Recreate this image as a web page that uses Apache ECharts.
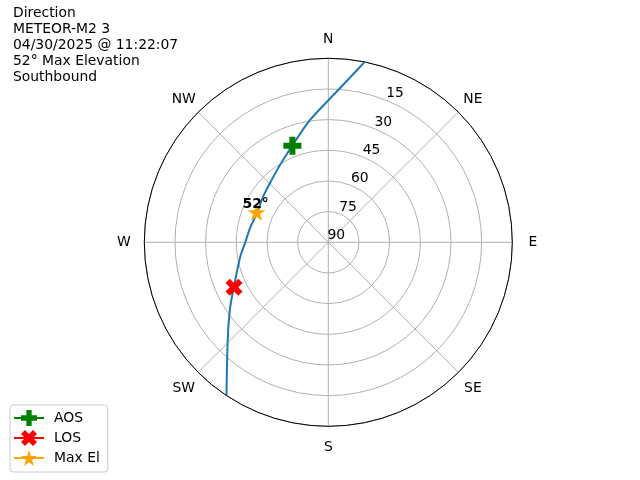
<!DOCTYPE html>
<html><head><meta charset="utf-8">
<script src="https://cdn.jsdelivr.net/npm/echarts@6/dist/echarts.min.js"></script>
<style>html,body{margin:0;padding:0;background:#fff}#c{width:640px;height:480px}</style>
</head><body><div id="c"></div>
<script>
const titleLines = ['Direction', 'METEOR-M2 3', '04/30/2025 @ 11:22:07', '52° Max Elevation', 'Southbound'];
const compassLabels = ['N', 'NE', 'E', 'SE', 'S', 'SW', 'W', 'NW'];
const elevTicks = [15, 30, 45, 60, 75, 90];
// pass track: azimuth (deg, clockwise from N) and elevation (deg)
const trackAz = [11.4, 7.65, 2.0, 351.5, 341.7, 328.0, 317.7, 304.8, 293.2, 280.3, 270, 261.1, 247.1, 236.1, 226.3, 213.6];
const trackEl = [0, 8.4, 17.9, 29.5, 38.1, 45.4, 48.8, 51.1, 52.3, 51.1, 49.4, 46.5, 40.4, 32.1, 22.0, 0];
const aosPoint = [39.6, 339.6];   // [elevation, azimuth]
const losPoint = [38.9, 244.5];
const maxElPoint = [52.0, 292.7];

const FONT = 'DejaVu Sans';
const FS = 13.9;
const plusPath = 'path://M-1,-3L1,-3L1,-1L3,-1L3,1L1,1L1,3L-1,3L-1,1L-3,1L-3,-1L-1,-1Z';
const xPath = 'path://M2,-4L4,-2L2,0L4,2L2,4L0,2L-2,4L-4,2L-2,0L-4,-2L-2,-4L0,-2Z';
const starPath = 'path://M0,-1L-0.2245,-0.309L-0.951,-0.309L-0.363,0.118L-0.588,0.809L0,0.382L0.588,0.809L0.363,0.118L0.951,-0.309L0.2245,-0.309Z';

const trackData = trackAz.map((a, i) => [trackEl[i], a]);

// per-direction padding so each compass label is centred at a common distance
const compassPad = {
  n: [0, 0, 12, 0], ne: [0, 0, 5.7, 4.9], e: [0, 0, 0, 16.1], se: [9.4, 0, 0, 5.7],
  s: [13.9, 0, 0, 0], sw: [9.4, 3.2, 0, 0], w: [0, 13.6, 0, 0], nw: [0, 2.4, 5.7, 0]
};
const compassRich = {};
Object.keys(compassPad).forEach(k => {
  compassRich[k] = {fontFamily: FONT, fontSize: FS, color: '#000', padding: compassPad[k]};
});

const chart = echarts.init(document.getElementById('c'), null, {renderer: 'canvas'});
chart.setOption({
  animation: false,
  textStyle: {fontFamily: FONT, fontSize: FS, color: '#000'},
  title: {
    text: titleLines.join('\n'),
    left: 13, top: 5, padding: 0,
    textStyle: {fontFamily: FONT, fontSize: FS, fontWeight: 'normal', color: '#000', lineHeight: 16}
  },
  legend: {
    orient: 'vertical', left: 10, top: 405,
    padding: [5, 8, 6, 3],
    itemWidth: 30, itemHeight: 20, itemGap: 4,
    borderColor: '#cccccc', borderWidth: 1, borderRadius: 3,
    textStyle: {fontFamily: FONT, fontSize: FS, color: '#000', padding: [0, 0, 0, 5]},
    data: ['AOS', 'LOS', 'Max El']
  },
  polar: [
    {center: [328.3, 242.3], radius: 184},
    {center: [328.3, 242.3], radius: 184}
  ],
  angleAxis: [
    {
      polarIndex: 0, type: 'value', min: 0, max: 360, interval: 45,
      startAngle: 90, clockwise: true,
      axisLine: {lineStyle: {color: '#000', width: 1}},
      axisTick: {show: false},
      splitLine: {show: true, lineStyle: {color: '#b0b0b0', width: 1}},
      axisLabel: {
        margin: 0,
        fontFamily: FONT, fontSize: FS, color: '#000',
        rich: compassRich,
        formatter: v => {
          if (v >= 360) return '';
          const lab = compassLabels[Math.round(v / 45) % 8];
          return '{' + lab.toLowerCase() + '|' + lab + '}';
        }
      }
    },
    {
      polarIndex: 1, type: 'value', min: 0, max: 360, startAngle: 67.5, show: false
    }
  ],
  radiusAxis: [
    {
      polarIndex: 0, type: 'value', min: 0, max: 90, interval: 15, inverse: true,
      axisLine: {show: false}, axisTick: {show: false}, axisLabel: {show: false},
      splitLine: {show: true, lineStyle: {color: '#b0b0b0', width: 1}}
    },
    {
      polarIndex: 1, type: 'value', min: 0, max: 90, interval: 15, inverse: true,
      axisLine: {show: false}, axisTick: {show: false}, splitLine: {show: false},
      axisLabel: {
        show: true, margin: 0, align: 'center', verticalAlign: 'bottom',
        padding: [0, 0, 0, 16],
        fontFamily: FONT, fontSize: FS, color: '#000',
        formatter: v => elevTicks.includes(v) ? String(v) : ''
      }
    }
  ],
  series: [
    {
      name: 'Track', type: 'line', coordinateSystem: 'polar', polarIndex: 0,
      data: trackData, smooth: 0.3, showSymbol: false, symbol: 'none',
      lineStyle: {color: '#1f77b4', width: 2}, z: 3
    },
    {
      name: 'AOS', type: 'line', coordinateSystem: 'polar', polarIndex: 0,
      data: [aosPoint], symbol: plusPath, symbolSize: 18, symbolKeepAspect: true,
      itemStyle: {color: 'green'}, lineStyle: {color: 'green', width: 2}, z: 5
    },
    {
      name: 'LOS', type: 'line', coordinateSystem: 'polar', polarIndex: 0,
      data: [losPoint], symbol: xPath, symbolSize: 17, symbolKeepAspect: true,
      itemStyle: {color: 'red'}, lineStyle: {color: 'red', width: 2}, z: 5
    },
    {
      name: 'Max El', type: 'line', coordinateSystem: 'polar', polarIndex: 0,
      data: [maxElPoint], symbol: starPath, symbolSize: 18, symbolKeepAspect: true,
      itemStyle: {color: 'orange'}, lineStyle: {color: 'orange', width: 2}, z: 5,
      label: {
        show: true, position: 'top', distance: 0, offset: [-1, 8],
        fontFamily: FONT, fontSize: FS, fontWeight: 'bold', color: '#000',
        formatter: p => Math.round(p.value[0]) + '°'
      }
    }
  ]
});
</script>
</body></html>
